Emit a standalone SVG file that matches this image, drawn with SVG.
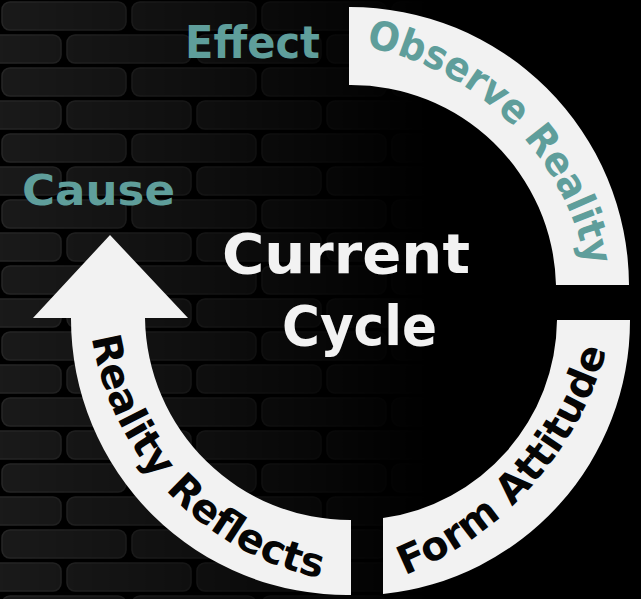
<svg xmlns="http://www.w3.org/2000/svg" width="641" height="599" viewBox="0 0 641 599">
  <style>
    .seg { fill: #f2f2f2; }
    .lbl { font-family: "DejaVu Sans", "Liberation Sans", sans-serif; font-weight: bold; }
    .teal { fill: #5f9e9b; }
    .dark { fill: #050505; }
    .white { fill: #f2f2f2; }
    .brick { fill: #1b1b1b; stroke: #272727; stroke-width: 1.5; }
  </style>
  <defs>
    <pattern id="bricks" width="260" height="66" patternUnits="userSpaceOnUse">
      <rect class="brick" x="2" y="2" width="124" height="28" rx="8"/>
      <rect class="brick" x="132" y="2" width="124" height="28" rx="8"/>
      <rect class="brick" x="-63" y="35" width="124" height="28" rx="8"/>
      <rect class="brick" x="67" y="35" width="124" height="28" rx="8"/>
      <rect class="brick" x="197" y="35" width="124" height="28" rx="8"/>
    </pattern>
    <linearGradient id="fadeGrad" x1="0" y1="0" x2="430" y2="0" gradientUnits="userSpaceOnUse">
      <stop offset="0" stop-color="#fff" stop-opacity="0.95"/>
      <stop offset="0.45" stop-color="#fff" stop-opacity="0.55"/>
      <stop offset="1" stop-color="#fff" stop-opacity="0"/>
    </linearGradient>
    <mask id="fade">
      <rect x="0" y="0" width="641" height="599" fill="url(#fadeGrad)"/>
    </mask>
    <path id="pObserve" d="M365.6,46.9 A278,278 0 0 1 586.1,265.5"/>
    <path id="pForm" d="M404.8,575.2 A343,343 0 0 0 606.5,350.0"/>
    <path id="pReflects" d="M91.9,337.4 A293,293 0 0 0 320.4,578.2"/>
  </defs>

  <g id="background">
    <rect x="0" y="0" width="641" height="599" fill="#000"/>
    <rect x="0" y="0" width="641" height="599" fill="url(#bricks)" mask="url(#fade)"/>
  </g>

  <g id="connectors">
    <g id="seg-observe-reality">
      <path class="seg" d="M349,7 A279,279 0 0 1 629,285 L556,285 A205,205 0 0 0 349,85 Z"/>
      <text class="lbl teal" font-size="40"><textPath href="#pObserve" textLength="330" lengthAdjust="spacingAndGlyphs">Observe Reality</textPath></text>
    </g>
    <g id="seg-form-attitude">
      <path class="seg" d="M557,320 L630,320 A275,275 0 0 1 383,594 L383,518 A202,202 0 0 0 557,320 Z"/>
      <text class="lbl dark" font-size="40"><textPath href="#pForm" textLength="313" lengthAdjust="spacingAndGlyphs">Form Attitude</textPath></text>
    </g>
    <g id="seg-reality-reflects">
      <path class="seg" d="M351,595 A276,276 0 0 1 71,318 L33,318 L110,235 L188,318 L145,318 A205,205 0 0 0 351,520 Z"/>
      <text class="lbl dark" font-size="40"><textPath href="#pReflects" textLength="353" lengthAdjust="spacingAndGlyphs">Reality Reflects</textPath></text>
    </g>
  </g>

  <g id="label-effect">
    <text class="lbl teal" x="185" y="58" font-size="45" textLength="135" lengthAdjust="spacingAndGlyphs">Effect</text>
  </g>
  <g id="label-cause">
    <text class="lbl teal" x="22" y="205" font-size="42" textLength="153" lengthAdjust="spacingAndGlyphs">Cause</text>
  </g>
  <g id="title">
    <text class="lbl white" x="222" y="273" font-size="55" textLength="248" lengthAdjust="spacingAndGlyphs">Current</text>
    <text class="lbl white" x="282" y="345" font-size="55" textLength="155" lengthAdjust="spacingAndGlyphs">Cycle</text>
  </g>
</svg>
